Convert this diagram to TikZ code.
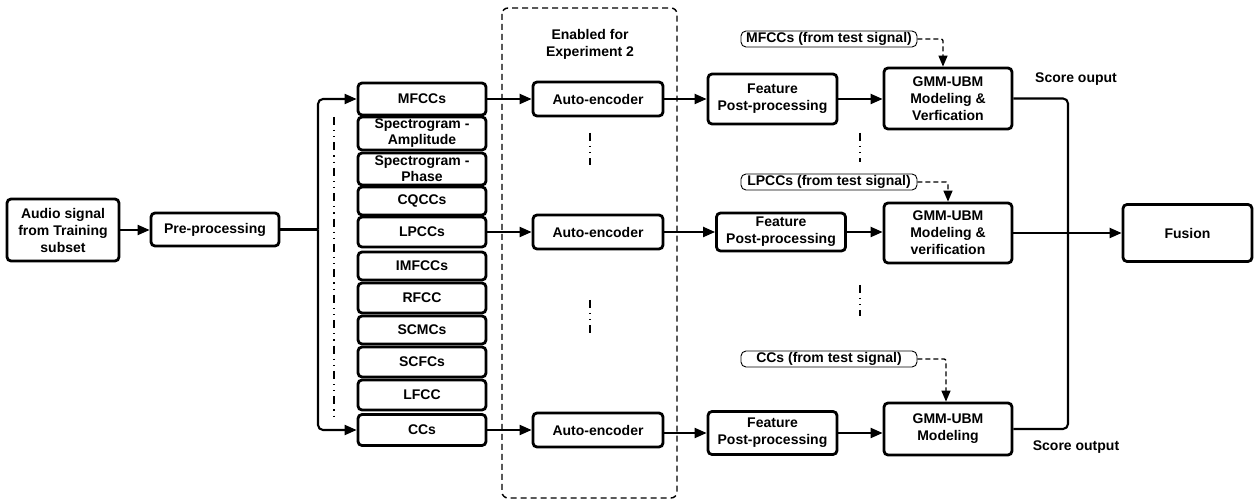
\documentclass[tikz,border=0pt]{standalone}
\usepackage{fontspec}
\setmainfont{Liberation Sans}
\usetikzlibrary{arrows.meta}
\begin{document}
\begin{tikzpicture}[x=1pt,y=-1pt,
  every node/.style={font=\fontsize{14}{17}\selectfont\bfseries},
  block/.style={draw, line width=2.8pt, rounded corners=4pt, align=center,
    inner sep=0pt},
  tag/.style={draw, line width=0.9pt, rounded corners=5pt, inner sep=0pt,
    minimum width=176, minimum height=16},
  conn/.style={line width=2.1pt},
  flow/.style={conn, -{Triangle[length=12pt,width=10pt]}},
  testflow/.style={line width=1.3pt, dash pattern=on 5pt off 3pt,
    -{Triangle[length=11pt,width=9pt]}},
  gap/.style={line width=1.3pt, dash pattern=on 8pt off 5pt on 1.2pt off 5pt on 1.2pt off 5pt}]
\useasboundingbox (0,0) rectangle (1254,502);

% input stage
\node[block, minimum width=112, minimum height=62] (audio) at (63,230)
  {Audio signal\\from Training\\subset};
\node[block, minimum width=128, minimum height=33] (pre) at (215,229.5) {Pre-processing};

% feature extractors
\tikzset{feat/.style={block, minimum width=128}}
\node[feat, minimum height=32] (mfcc) at (422,99) {MFCCs};
\node[feat, minimum height=33] (specA) at (422,133.5) {Spectrogram -\\[-1pt]Amplitude};
\node[feat, minimum height=32] (specP) at (422,169) {Spectrogram -\\[-1pt]Phase};
\node[feat, minimum height=28] (cqcc) at (422,201) {CQCCs};
\node[feat, minimum height=30] (lpcc) at (422,232) {LPCCs};
\node[feat, minimum height=28] (imfcc) at (422,266) {IMFCCs};
\node[feat, minimum height=30] (rfcc) at (422,298) {RFCC};
\node[feat, minimum height=28] (scmc) at (422,330) {SCMCs};
\node[feat, minimum height=30] (scfc) at (422,362) {SCFCs};
\node[feat, minimum height=30] (lfcc) at (422,395) {LFCC};
\node[feat, minimum height=31] (ccs) at (422,430) {CCs};

% optional auto-encoder stage
\draw[line width=1.4pt, dash pattern=on 6pt off 4pt, rounded corners=6pt]
  (502,8) rectangle (677,498);
\node[align=center] (exp) at (590,44) {Enabled for\\Experiment 2};
\tikzset{ae/.style={block, minimum width=130, minimum height=34}}
\node[ae] (ae1) at (598,99) {Auto-encoder};
\node[ae] (ae2) at (598,232) {Auto-encoder};
\node[ae] (ae3) at (598,430) {Auto-encoder};

% post-processing
\tikzset{fpp/.style={block, minimum width=129}}
\node[fpp, minimum height=50] (fpp1) at (772.5,99) {Feature\\Post-processing};
\node[fpp, minimum height=38] (fpp2) at (781,232) {Feature\\Post-processing};
\node[fpp, minimum height=43] (fpp3) at (772.5,433) {Feature\\Post-processing};

% modelling
\tikzset{gmm/.style={block, minimum width=128}}
\node[gmm, minimum height=61] (gmm1) at (948,98.5) {GMM-UBM\\Modeling \&\\Verfication};
\node[gmm, minimum height=60] (gmm2) at (948,233) {GMM-UBM\\Modeling \&\\verification};
\node[gmm, minimum height=52] (gmm3) at (948,429) {GMM-UBM\\Modeling};

% test-signal features
\node[tag] (t1) at (829,39) {MFCCs (from test signal)};
\node[tag] (t2) at (829,182) {LPCCs (from test signal)};
\node[tag] (t3) at (829,359) {CCs (from test signal)};

% fusion
\node[block, minimum width=129, minimum height=57] (fusion) at (1187.5,233) {Fusion};
\node (s1) at (1076,79) {Score ouput};
\node (s2) at (1076,447) {Score output};

% connectors
\draw[flow] (audio.east) -- (audio.east -| pre.west);
\coordinate (split) at (318,229.5);
\draw[conn] (pre.east) -- (split);
\draw[flow, rounded corners=5pt] (split) |- (mfcc.west);
\draw[flow, rounded corners=5pt] (split) |- (ccs.west);
\draw[gap] (334,117) -- (334,417);

\draw[flow] (mfcc.east) -- (ae1.west);
\draw[flow] (lpcc.east) -- (ae2.west);
\draw[flow] (ccs.east) -- (ae3.west);
\draw[flow] (ae1.east) -- (ae1.east -| fpp1.west);
\draw[flow] (ae2.east) -- (ae2.east -| fpp2.west);
\draw[flow] (ae3.east |- fpp3.west) -- (fpp3.west);
\draw[flow] (fpp1.east) -- (fpp1.east -| gmm1.west);
\draw[flow] (fpp2.east) -- (fpp2.east -| gmm2.west);
\draw[flow] (fpp3.east) -- (fpp3.east -| gmm3.west);

\draw[gap] (590,133) -- (590,165);
\draw[gap] (590,300) -- (590,333);
\draw[gap] (860,133) -- (860,162);
\draw[gap] (860,285) -- (860,316);

\draw[testflow, rounded corners=2pt] (t1.east) -| ([xshift=-5pt]gmm1.north);
\draw[testflow, rounded corners=2pt] (t2.east) -| (gmm2.north);
\draw[testflow, rounded corners=2pt] (t3.east) -| ([xshift=-2pt]gmm3.north);

\coordinate (bus) at (1068,233);
\draw[conn, rounded corners=5pt] (gmm1.east) -| (bus) |- (gmm3.east);
\draw[flow] (gmm2.east) -- (fusion.west);
\end{tikzpicture}
\end{document}
